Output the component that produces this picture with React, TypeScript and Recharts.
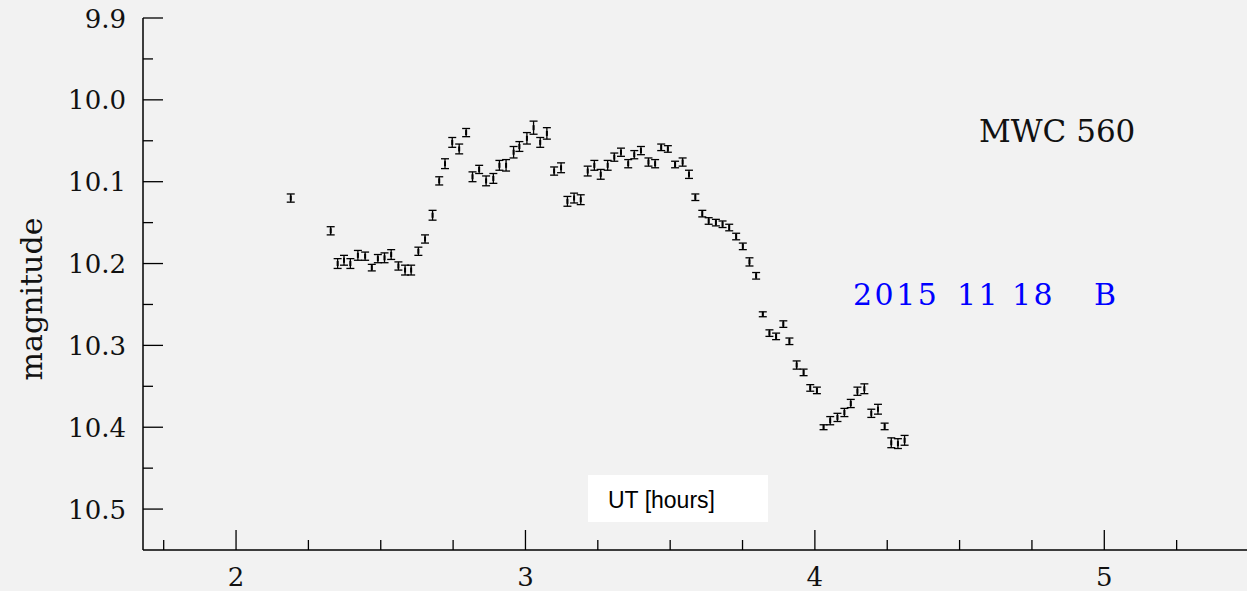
import React from 'react';
import { ScatterChart, Scatter, XAxis, YAxis, ErrorBar } from 'recharts';

// UT hours and B magnitude, 2015-11-18
const UT = [
  2.189, 2.327, 2.351, 2.373, 2.395, 2.421, 2.446, 2.469, 2.49, 2.513,
  2.536, 2.561, 2.584, 2.605, 2.63, 2.653, 2.679, 2.702, 2.722, 2.747,
  2.771, 2.795, 2.817, 2.84, 2.864, 2.889, 2.91, 2.933, 2.959, 2.979,
  3.005, 3.028, 3.051, 3.074, 3.099, 3.123, 3.145, 3.168, 3.191, 3.215,
  3.238, 3.26, 3.284, 3.307, 3.33, 3.355, 3.376, 3.399, 3.425, 3.448,
  3.469, 3.492, 3.517, 3.543, 3.565, 3.587, 3.611, 3.633, 3.658, 3.681,
  3.704, 3.728, 3.751, 3.774, 3.797, 3.82, 3.843, 3.866, 3.891, 3.912,
  3.937, 3.961, 3.984, 4.007, 4.03, 4.053, 4.078, 4.102, 4.124, 4.147,
  4.171, 4.195, 4.218, 4.241, 4.264, 4.287, 4.31,
];

const MAG = [
  10.12, 10.16, 10.2, 10.196, 10.2, 10.19, 10.191, 10.205, 10.194, 10.193,
  10.189, 10.203, 10.208, 10.208, 10.185, 10.17, 10.141, 10.099, 10.078, 10.052,
  10.06, 10.04, 10.094, 10.085, 10.099, 10.096, 10.08, 10.08, 10.064, 10.057,
  10.047, 10.034, 10.052, 10.041, 10.087, 10.083, 10.124, 10.12, 10.122, 10.087,
  10.08, 10.091, 10.08, 10.07, 10.064, 10.078, 10.067, 10.062, 10.076, 10.078,
  10.058, 10.06, 10.079, 10.076, 10.091, 10.119, 10.139, 10.148, 10.15, 10.152,
  10.156, 10.167, 10.179, 10.198, 10.215, 10.262, 10.285, 10.289, 10.274, 10.295,
  10.324, 10.333, 10.352, 10.355, 10.4, 10.392, 10.388, 10.382, 10.371, 10.356,
  10.353, 10.383, 10.378, 10.399, 10.419, 10.42, 10.416,
];

// half-length of each error bar, magnitudes
const ERR = [
  0.005, 0.005, 0.006, 0.006, 0.006, 0.006, 0.005, 0.004, 0.005, 0.006,
  0.006, 0.005, 0.006, 0.006, 0.005, 0.005, 0.006, 0.005, 0.006, 0.006,
  0.006, 0.005, 0.006, 0.005, 0.006, 0.006, 0.006, 0.007, 0.007, 0.006,
  0.007, 0.008, 0.006, 0.007, 0.005, 0.006, 0.006, 0.006, 0.006, 0.006,
  0.006, 0.006, 0.006, 0.005, 0.005, 0.005, 0.005, 0.005, 0.005, 0.005,
  0.004, 0.004, 0.004, 0.005, 0.005, 0.004, 0.004, 0.004, 0.004, 0.004,
  0.004, 0.004, 0.004, 0.005, 0.004, 0.003, 0.004, 0.004, 0.004, 0.004,
  0.005, 0.004, 0.004, 0.004, 0.003, 0.005, 0.005, 0.005, 0.005, 0.005,
  0.006, 0.005, 0.006, 0.004, 0.006, 0.006, 0.006,
];

const X_TICKS = [1.75, 2, 2.25, 2.5, 2.75, 3, 3.25, 3.5, 3.75, 4, 4.25, 4.5, 4.75, 5, 5.25, 5.5];
const Y_TICKS = [9.9, 9.95, 10, 10.05, 10.1, 10.15, 10.2, 10.25, 10.3, 10.35, 10.4, 10.45, 10.5];

const X_DOMAIN = [1.6785, 5.5];
const Y_DOMAIN = [9.9, 10.55];

const data = UT.map((t, i) => ({ t, mag: MAG[i], err: ERR[i] }));

const SERIF = '"DejaVu Serif", serif';
const INK = '#111';

const isMajorX = (v: number) => Math.abs(v - Math.round(v)) < 1e-6;
const isMajorY = (v: number) => Math.abs(v * 10 - Math.round(v * 10)) < 1e-6;

function BottomTick({ x, y, payload }: any) {
  const major = isMajorX(payload.value);
  return (
    <g>
      <line x1={x} x2={x} y1={y} y2={y - (major ? 20 : 10)} stroke="#000" strokeWidth={1.3} />
      {major && (
        <text x={x} y={y + 36} textAnchor="middle" fontFamily={SERIF} fontSize={26} fill={INK}>
          {payload.value}
        </text>
      )}
    </g>
  );
}

function TopTick({ x, y, payload }: any) {
  const major = isMajorX(payload.value);
  return <line x1={x} x2={x} y1={y} y2={y + (major ? 20 : 10)} stroke="#000" strokeWidth={1.3} />;
}

function LeftTick({ x, y, payload }: any) {
  const major = isMajorY(payload.value);
  return (
    <g>
      <line x1={x} x2={x + (major ? 20 : 10)} y1={y} y2={y} stroke="#000" strokeWidth={1.3} />
      {major && (
        <text x={x - 17} y={y + 9.5} textAnchor="end" fontFamily={SERIF} fontSize={26} fill={INK}>
          {payload.value.toFixed(1)}
        </text>
      )}
    </g>
  );
}

function RightTick({ x, y, payload }: any) {
  const major = isMajorY(payload.value);
  return <line x1={x} x2={x - (major ? 20 : 10)} y1={y} y2={y} stroke="#000" strokeWidth={1.3} />;
}

function Dot({ cx, cy }: any) {
  return <rect x={cx - 1} y={cy - 2.5} width={2} height={5} fill="#000" />;
}

const axisLine = { stroke: '#000', strokeWidth: 1.5 };

export default function App() {
  return (
    <div
      style={{
        position: 'absolute',
        left: 0,
        top: 0,
        width: 1247,
        height: 591,
        background: '#f2f2f2',
        overflow: 'hidden',
      }}
    >
      <ScatterChart width={1252} height={591} margin={{ top: 18, right: 3, bottom: 0, left: 0 }}>
        <XAxis
          xAxisId="b"
          dataKey="t"
          type="number"
          domain={X_DOMAIN}
          ticks={X_TICKS}
          interval={0}
          allowDataOverflow
          height={41}
          tickSize={0}
          tickMargin={0}
          axisLine={axisLine}
          tickLine={false}
          tick={<BottomTick />}
        />
        <XAxis
          xAxisId="t"
          orientation="top"
          dataKey="t"
          type="number"
          domain={X_DOMAIN}
          ticks={X_TICKS}
          interval={0}
          allowDataOverflow
          height={0}
          tickSize={0}
          tickMargin={0}
          axisLine={axisLine}
          tickLine={false}
          tick={<TopTick />}
        />
        <YAxis
          yAxisId="l"
          dataKey="mag"
          type="number"
          reversed
          domain={Y_DOMAIN}
          ticks={Y_TICKS}
          interval={0}
          allowDataOverflow
          width={143}
          tickSize={0}
          tickMargin={0}
          axisLine={axisLine}
          tickLine={false}
          tick={<LeftTick />}
        />
        <YAxis
          yAxisId="r"
          orientation="right"
          dataKey="mag"
          type="number"
          reversed
          domain={Y_DOMAIN}
          ticks={Y_TICKS}
          interval={0}
          allowDataOverflow
          width={0}
          tickSize={0}
          tickMargin={0}
          axisLine={axisLine}
          tickLine={false}
          tick={<RightTick />}
        />
        <Scatter
          data={data}
          dataKey="mag"
          xAxisId="b"
          yAxisId="l"
          shape={<Dot />}
          isAnimationActive={false}
        >
          <ErrorBar dataKey="err" direction="y" width={4} stroke="#000" strokeWidth={1.3} isAnimationActive={false} />
        </Scatter>
      </ScatterChart>

      <svg
        width={1247}
        height={591}
        style={{ position: 'absolute', left: 0, top: 0, pointerEvents: 'none' }}
      >
        <text
          x={42}
          y={299}
          transform="rotate(-90, 42, 299)"
          textAnchor="middle"
          fontFamily={SERIF}
          fontSize={30}
          fill={INK}
        >
          magnitude
        </text>
        <text x={979} y={142} fontFamily={SERIF} fontSize={31} fill={INK}>
          MWC 560
        </text>
        <g fontFamily={SERIF} fontSize={30} fill="#0000ff">
          <text x={853} y={305} letterSpacing={2.5}>2015</text>
          <text x={957} y={305} letterSpacing={2.5}>11</text>
          <text x={1012} y={305} letterSpacing={2.5}>18</text>
          <text x={1094} y={305}>B</text>
        </g>
        <rect x={588} y={475} width={180} height={47} fill="#ffffff" />
        <text x={608} y={508} fontFamily='"Liberation Sans", Arial, sans-serif' fontSize={23} fill="#000">
          UT [hours]
        </text>
      </svg>
    </div>
  );
}
